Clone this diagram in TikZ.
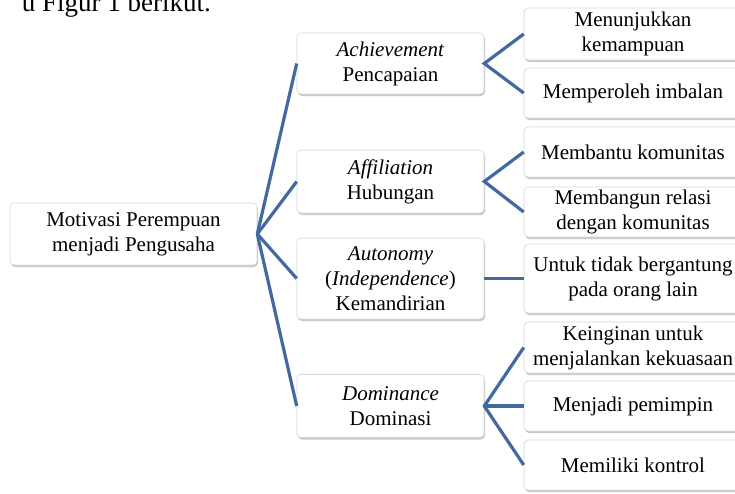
\documentclass[tikz,border=0pt]{standalone}
\usepackage{fontspec}
\setmainfont{Liberation Serif}
\usetikzlibrary{shadows}
\definecolor{conn}{RGB}{66,106,160}
\definecolor{boxline}{RGB}{215,215,215}
\begin{document}
\begin{tikzpicture}[x=1pt,y=-1pt,
  box/.style={draw=boxline, line width=0.6pt, fill=white, rounded corners=4pt, align=center,
    inner sep=0pt, font=\fontsize{21}{25}\selectfont,
    drop shadow={shadow xshift=1pt, shadow yshift=-2pt, opacity=0.35, fill=black!60}},
  rootbox/.style={box, minimum width=247pt},
  midbox/.style={box, minimum width=187pt},
  leafbox/.style={box, minimum width=218pt},
  link/.style={draw=conn, line width=3.2pt}]
\useasboundingbox (0,0) rectangle (735,493);
\fill[white] (0,0) rectangle (735,493);
\node[anchor=base east, font=\fontsize{27}{30}\selectfont, inner sep=0pt] (top) at (211,11) {u Figur 1 berikut.};
% root
\node[rootbox, minimum height=62pt] (root) at (133.5,234) {Motivasi Perempuan\\menjadi Pengusaha};
% middle
\node[midbox, minimum height=61pt] (ach) at (390.5,63.5) {\textit{Achievement}\\Pencapaian};
\node[midbox, minimum height=63pt] (aff) at (390.5,181.5) {\textit{Affiliation}\\Hubungan};
\node[midbox, minimum height=81pt] (aut) at (390.5,278.5) {\textit{Autonomy}\\(\textit{Independence})\\Kemandirian};
\node[midbox, minimum height=63pt] (dom) at (390.5,406) {\textit{Dominance}\\Dominasi};
% leaves
\node[leafbox, minimum height=52pt] (l1) at (633,34) {Menunjukkan\\kemampuan};
\node[leafbox, minimum height=50pt] (l2) at (633,93) {Memperoleh imbalan};
\node[leafbox, minimum height=50pt] (l3) at (633,152) {Membantu komunitas};
\node[leafbox, minimum height=50pt] (l4) at (633,212) {Membangun relasi\\dengan komunitas};
\node[leafbox, minimum height=69pt] (l5) at (633,278.5) {Untuk tidak bergantung\\pada orang lain};
\node[leafbox, minimum height=51pt] (l6) at (633,347.5) {Keinginan untuk\\menjalankan kekuasaan};
\node[leafbox, minimum height=50pt] (l7) at (633,406) {Menjadi pemimpin};
\node[leafbox, minimum height=50pt] (l8) at (633,465) {Memiliki kontrol};
% connectors
\foreach \m in {ach,aff,aut,dom} \draw[link] (root.east) -- (\m.west);
\draw[link] (l1.west) -- (ach.east) -- (l2.west);
\draw[link] (l3.west) -- (aff.east) -- (l4.west);
\draw[link] (aut.east) -- (l5.west);
\draw[link] (l6.west) -- (dom.east) -- (l8.west);
\draw[link] (dom.east) -- (l7.west);
\end{tikzpicture}
\end{document}
